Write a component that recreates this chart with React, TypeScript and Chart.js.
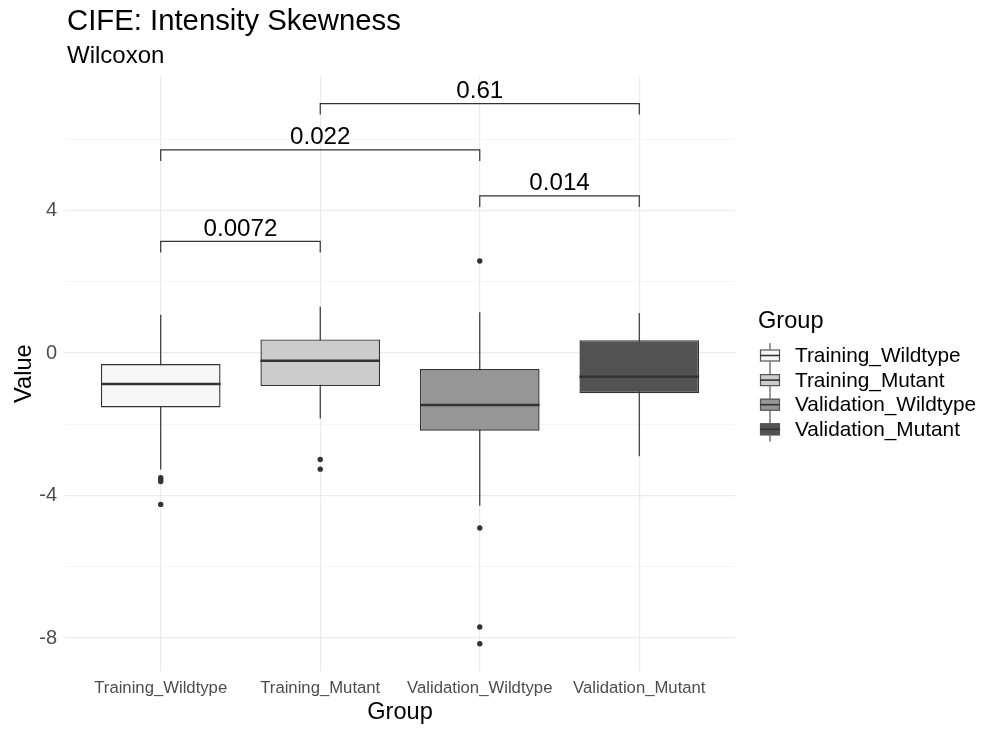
import React, { useEffect, useRef } from 'react';
import { Chart, registerables } from 'chart.js';

Chart.register(...registerables);

// Groups on the x axis and their five-number summaries
const groups = ['Training_Wildtype', 'Training_Mutant', 'Validation_Wildtype', 'Validation_Mutant'];
const whiskerLow = [-3.27, -1.84, -4.29, -2.9];
const quartile1 = [-1.53, -0.93, -2.18, -1.13];
const medians = [-0.87, -0.22, -1.46, -0.67];
const quartile3 = [-0.31, 0.38, -0.45, 0.36];
const whiskerHigh = [1.07, 1.3, 1.14, 1.12];
const outliers = [
  [-3.5, -3.56, -3.61, -4.25],
  [-2.99, -3.26],
  [2.58, -4.91, -7.69, -8.16],
  [],
];
const fills = ['#f7f7f7', '#cccccc', '#969696', '#525252'];

// Pairwise Wilcoxon comparisons
const comparisonFrom = [0, 2, 0, 1];
const comparisonTo = [1, 3, 2, 3];
const comparisonY = [3.13, 4.41, 5.7, 7.0];
const pValues = ['0.0072', '0.014', '0.022', '0.61'];

const yTickValues = [-8, -6, -4, -2, 0, 2, 4, 6];

const titleText = 'CIFE: Intensity Skewness';
const subtitleText = 'Wilcoxon';
const legendTitle = 'Group';

const FONT = '"Liberation Sans", Arial, sans-serif';
const INK = '#333333';
const boxWidth = 0.75;
const tipLength = 0.31;

const decorations = {
  id: 'decorations',
  afterDatasetsDraw(chart: any) {
    const { ctx, scales } = chart;
    const x = scales.x;
    const y = scales.y;
    ctx.save();
    ctx.fillStyle = '#000';
    ctx.font = `24.2px ${FONT}`;
    ctx.textAlign = 'center';
    ctx.textBaseline = 'alphabetic';
    pValues.forEach((p, k) => {
      const cx = (x.getPixelForValue(comparisonFrom[k]) + x.getPixelForValue(comparisonTo[k])) / 2;
      const cy = y.getPixelForValue(comparisonY[k]) - 5.5;
      ctx.fillText(p, cx, cy);
    });
    ctx.restore();
  },
  afterDraw(chart: any) {
    const { ctx } = chart;
    ctx.save();
    ctx.fillStyle = '#000';
    ctx.textAlign = 'left';
    ctx.textBaseline = 'alphabetic';
    ctx.font = `29.3px ${FONT}`;
    ctx.fillText(titleText, 67, 30);
    ctx.font = `24px ${FONT}`;
    ctx.fillText(subtitleText, 67, 63);

    // Legend
    ctx.font = `23.6px ${FONT}`;
    ctx.fillText(legendTitle, 758, 328);
    const rowH = 24.6;
    const firstRow = 355.5;
    ctx.font = `20.8px ${FONT}`;
    groups.forEach((g, i) => {
      const cy = firstRow + i * rowH;
      const kx = 760;
      const kw = 20;
      const kh = 12;
      ctx.strokeStyle = INK;
      ctx.lineWidth = 1;
      ctx.beginPath();
      ctx.moveTo(kx + kw / 2, cy - rowH / 2);
      ctx.lineTo(kx + kw / 2, cy + rowH / 2);
      ctx.stroke();
      ctx.fillStyle = fills[i];
      ctx.fillRect(kx, cy - kh / 2, kw, kh);
      ctx.strokeStyle = '#555';
      ctx.lineWidth = 1.2;
      ctx.strokeRect(kx + 0.5, cy - kh / 2 + 0.5, kw - 1, kh - 1);
      ctx.strokeStyle = INK;
      ctx.lineWidth = 1.6;
      ctx.beginPath();
      ctx.moveTo(kx, cy);
      ctx.lineTo(kx + kw, cy);
      ctx.stroke();
      ctx.fillStyle = '#000';
      ctx.textBaseline = 'middle';
      ctx.fillText(g, 795, cy + 1);
    });
    ctx.restore();
  },
};

export default function App() {
  const ref = useRef<HTMLCanvasElement>(null);

  useEffect(() => {
    document.body.style.margin = '0';
    Chart.defaults.font.family = FONT;

    const whiskers = groups.map((_, i) => ({
      type: 'line' as const,
      data: [
        { x: i, y: whiskerLow[i] },
        { x: i, y: whiskerHigh[i] },
      ],
      borderColor: INK,
      borderWidth: 1.2,
      pointRadius: 0,
      order: 5,
    }));

    const medianLines = groups.map((_, i) => ({
      type: 'line' as const,
      data: [
        { x: i - boxWidth / 2, y: medians[i] },
        { x: i + boxWidth / 2, y: medians[i] },
      ],
      borderColor: INK,
      borderWidth: 2.5,
      pointRadius: 0,
      order: 2,
    }));

    const brackets = pValues.map((_, k) => ({
      type: 'line' as const,
      data: [
        { x: comparisonFrom[k], y: comparisonY[k] - tipLength },
        { x: comparisonFrom[k], y: comparisonY[k] },
        { x: comparisonTo[k], y: comparisonY[k] },
        { x: comparisonTo[k], y: comparisonY[k] - tipLength },
      ],
      borderColor: INK,
      borderWidth: 1.2,
      pointRadius: 0,
      order: 1,
    }));

    const outlierPoints = outliers.flatMap((vals, i) => vals.map((v) => ({ x: i, y: v })));

    const chart = new Chart(ref.current as HTMLCanvasElement, {
      type: 'bar',
      data: {
        datasets: [
          {
            type: 'scatter' as const,
            data: outlierPoints,
            backgroundColor: INK,
            borderWidth: 0,
            pointRadius: 2.7,
            order: 0,
          } as any,
          ...medianLines,
          {
            type: 'bar' as const,
            data: groups.map((_, i) => ({ x: i, y: [quartile1[i], quartile3[i]] })),
            backgroundColor: fills,
            borderColor: INK,
            borderWidth: 1.4,
            borderSkipped: false,
            categoryPercentage: 1,
            barPercentage: boxWidth,
            order: 3,
          } as any,
          ...whiskers,
          ...brackets,
        ],
      },
      options: {
        animation: false,
        responsive: false,
        devicePixelRatio: 1,
        events: [],
        layout: { padding: { left: 0, right: 249, top: 76.5, bottom: 0 } },
        plugins: {
          legend: { display: false },
          tooltip: { enabled: false },
          title: { display: false },
        },
        scales: {
          x: {
            type: 'linear',
            min: -0.6,
            max: groups.length - 1 + 0.6,
            offset: false,
            afterBuildTicks: (scale: any) => {
              scale.ticks = groups.map((_, i) => ({ value: i }));
            },
            afterFit: (scale: any) => {
              scale.height = 59.2;
            },
            ticks: {
              autoSkip: false,
              maxRotation: 0,
              padding: 7.5,
              color: '#4d4d4d',
              font: { size: 16.7 },
              callback: (v: any) => groups[v as number] ?? '',
            },
            grid: { offset: false, color: '#ebebeb', lineWidth: 1.2, drawTicks: false },
            border: { display: false },
            title: {
              display: true,
              text: 'Group',
              color: '#000',
              font: { size: 23.6 },
              padding: { top: 0, bottom: 3 },
            },
          },
          y: {
            type: 'linear',
            min: -8.92,
            max: 7.76,
            afterBuildTicks: (scale: any) => {
              scale.ticks = yTickValues.map((v) => ({ value: v }));
            },
            afterFit: (scale: any) => {
              scale.width = 65;
            },
            ticks: {
              padding: 8,
              color: '#4d4d4d',
              font: { size: 20 },
              callback: (v: any) => (Number(v) % 4 === 0 ? String(v) : ''),
            },
            grid: {
              color: (c: any) => (c.tick && c.tick.value % 4 === 0 ? '#ebebeb' : '#f3f3f3'),
              lineWidth: (c: any) => (c.tick && c.tick.value % 4 === 0 ? 1.2 : 0.8),
              drawTicks: false,
            },
            border: { display: false },
            title: {
              display: true,
              text: 'Value',
              color: '#000',
              font: { size: 23.6 },
              padding: { top: 10.5, bottom: 0 },
            },
          },
        },
      },
      plugins: [decorations],
    } as any);

    return () => chart.destroy();
  }, []);

  return (
    <div style={{ width: 984, height: 730 }}>
      <canvas ref={ref} width={984} height={730} style={{ display: 'block' }} />
    </div>
  );
}
